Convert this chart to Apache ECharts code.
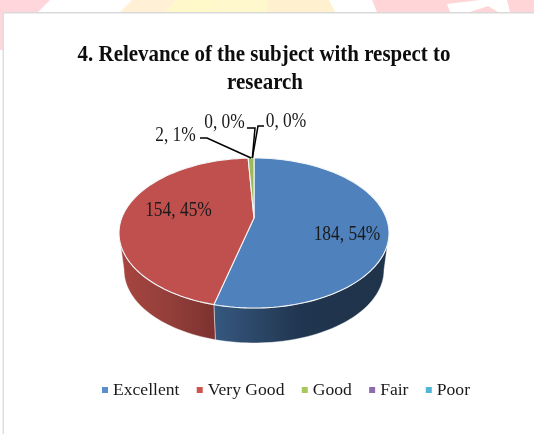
<!DOCTYPE html>
<html>
<head>
<meta charset="utf-8">
<style>html,body{margin:0;padding:0;background:#fff}#c{width:534px;height:434px}</style>
<script src="https://cdn.jsdelivr.net/npm/echarts@6/dist/echarts.min.js"></script>
</head>
<body>
<div id="c"></div>
<script>
const titleLines = ['4. Relevance of the subject with respect to', 'research'];
const categories = ['Excellent', 'Very Good', 'Good', 'Fair', 'Poor'];
const counts = [184, 154, 2, 0, 0];
const topColors = ['#4f81bd', '#c0504d', '#9bbb59', '#8064a2', '#4bacc6'];
const legendColors = ['#5a8fcb', '#d0524f', '#a8c85e', '#8d6bb0', '#4fb7d3'];
const wallColors = [['#36587f', '#20354f', '#1f3349'], ['#a8453f', '#943f3b', '#7c3230'], ['#6f8840', '#6f8840', '#6f8840'], ['#5c4875', '#5c4875', '#5c4875'], ['#367c8f', '#367c8f', '#367c8f']];

const total = counts.reduce((a, b) => a + b, 0);
const starts = [];
counts.reduce((acc, v, i) => { starts[i] = acc; return acc + v; }, 0);

// projection of the tilted disc
const upperDisc = { cx: 254, cy: 233, rx: 135, ry: 75, ax: 254, ay: 218 };
const lowerDisc = { cx: 254, cy: 270, rx: 130, ry: 73 };
const warp = t => t + 5 * Math.sin(2 * t * Math.PI / 180);
const pt = (e, t) => { const r = warp(t) * Math.PI / 180; return [e.cx + e.rx * Math.sin(r), e.cy - e.ry * Math.cos(r)]; };
const arc = (e, a, b) => { const out = []; const n = Math.max(2, Math.ceil(Math.abs(b - a) / 2)); for (let i = 0; i <= n; i++) out.push(pt(e, a + (b - a) * i / n)); return out; };

const labelPlace = [
  { x: 347, y: 235 },
  { x: 178.5, y: 211 },
  { x: 175.5, y: 136, leader: [[200, 138], [207, 138]] },
  { x: 224.5, y: 123, leader: [[247, 128], [255, 128]] },
  { x: 286, y: 122, leader: [[264, 126], [258, 126]] }
];

function renderSlice(i) {
  return function () {
    const a = starts[i] / total * 360, b = (starts[i] + counts[i]) / total * 360;
    const children = [];
    if (counts[i] > 0) {
      const wa = Math.max(a, 90), wb = Math.min(b, 270);
      if (wb > wa) {
        const upper = arc(upperDisc, wa, wb), lower = arc(lowerDisc, wa, wb).reverse();
        const xs = upper.concat(lower).map(p => p[0]);
        children.push({
          type: 'polygon', shape: { points: upper.concat(lower) },
          style: {
            fill: {
              type: 'linear', x: Math.min(...xs), y: 0, x2: Math.max(...xs), y2: 0, global: true,
              colorStops: [{ offset: 0, color: wallColors[i][0] }, { offset: 0.5, color: wallColors[i][1] }, { offset: 1, color: wallColors[i][2] }]
            },
            stroke: 'rgba(255,255,255,0.55)', lineWidth: 0.8
          }
        });
      }
      children.push({
        type: 'polygon', shape: { points: [[upperDisc.ax, upperDisc.ay]].concat(arc(upperDisc, a, b)) },
        style: { fill: topColors[i], stroke: '#f4f6f8', lineWidth: 1.1 }
      });
    }
    const place = labelPlace[i];
    if (place.leader) {
      const end = pt(upperDisc, (a + b) / 2 - (counts[i] ? 0 : 0.6));
      children.push({
        type: 'polyline', shape: { points: place.leader.concat([end]) },
        style: { fill: null, stroke: '#000', lineWidth: 1.5 }, z2: 5
      });
    }
    const pct = Math.round(counts[i] / total * 100);
    children.push({
      type: 'text', z2: 6, x: place.x, y: place.y, scaleX: 0.87,
      style: { x: 0, y: 0, text: counts[i] + ', ' + pct + '%', fill: '#1a1a1a', font: '20px "Liberation Serif"', align: 'center', verticalAlign: 'middle' }
    });
    return { type: 'group', children };
  };
}

const chart = echarts.init(document.getElementById('c'), null, { renderer: 'canvas' });
chart.setOption({
  animation: false,
  backgroundColor: '#fff',
  legend: {
    left: 102, top: 381, padding: 0, icon: 'rect', itemWidth: 6, itemHeight: 6, itemGap: 17.3,
    textStyle: { fontFamily: 'Liberation Serif', fontSize: 17.6, color: '#1a1a1a' },
    data: categories.map((name, i) => ({ name, itemStyle: { color: legendColors[i] } }))
  },
  graphic: [
    { type: 'polygon', silent: true, z: -10, shape: { points: [[0, 0], [50, 0], [38, 12], [3, 12], [3, 50], [0, 50]] }, style: { fill: '#ffd6db' } },
    { type: 'polygon', silent: true, z: -10, shape: { points: [[132, 0], [177, 0], [165, 12], [120, 12]] }, style: { fill: '#fff0d6' } },
    { type: 'polygon', silent: true, z: -10, shape: { points: [[177, 0], [218, 0], [206, 12], [165, 12]] }, style: { fill: '#fff8c8' } },
    { type: 'polygon', silent: true, z: -10, shape: { points: [[218, 0], [267, 0], [267, 12], [206, 12]] }, style: { fill: '#fff8cc' } },
    { type: 'polygon', silent: true, z: -10, shape: { points: [[267, 0], [329, 0], [335, 12], [267, 12]] }, style: { fill: '#fff1cf' } },
    { type: 'polygon', silent: true, z: -10, shape: { points: [[372, 0], [534, 0], [534, 12], [377, 12]] }, style: { fill: '#ffd5d8' } },
    { type: 'polygon', silent: true, z: -9, shape: { points: [[447, 4], [480, 0], [507, 0], [510, 12], [498, 12], [488, 6], [470, 12], [450, 12]] }, style: { fill: '#fff' } },
    { type: 'rect', silent: true, z: -8, shape: { x: 3, y: 12, width: 531, height: 1.5 }, style: { fill: '#d9d9d9' } },
    { type: 'rect', silent: true, z: -8, shape: { x: 2.5, y: 12, width: 1.5, height: 422 }, style: { fill: '#dedede' } },
    { type: 'text', silent: true, x: 264, y: 55, scaleX: 0.91, style: { text: titleLines[0], font: 'bold 23px "Liberation Serif"', fill: '#0d0d0d', align: 'center', verticalAlign: 'middle' } },
    { type: 'text', silent: true, x: 265, y: 83, scaleX: 0.91, style: { text: titleLines[1], font: 'bold 23px "Liberation Serif"', fill: '#0d0d0d', align: 'center', verticalAlign: 'middle' } }
  ],
  series: categories.map((name, i) => ({
    type: 'custom', name, coordinateSystem: 'none', silent: true,
    itemStyle: { color: topColors[i] },
    data: [[counts[i]]],
    renderItem: renderSlice(i)
  }))
});
</script>
</body>
</html>
